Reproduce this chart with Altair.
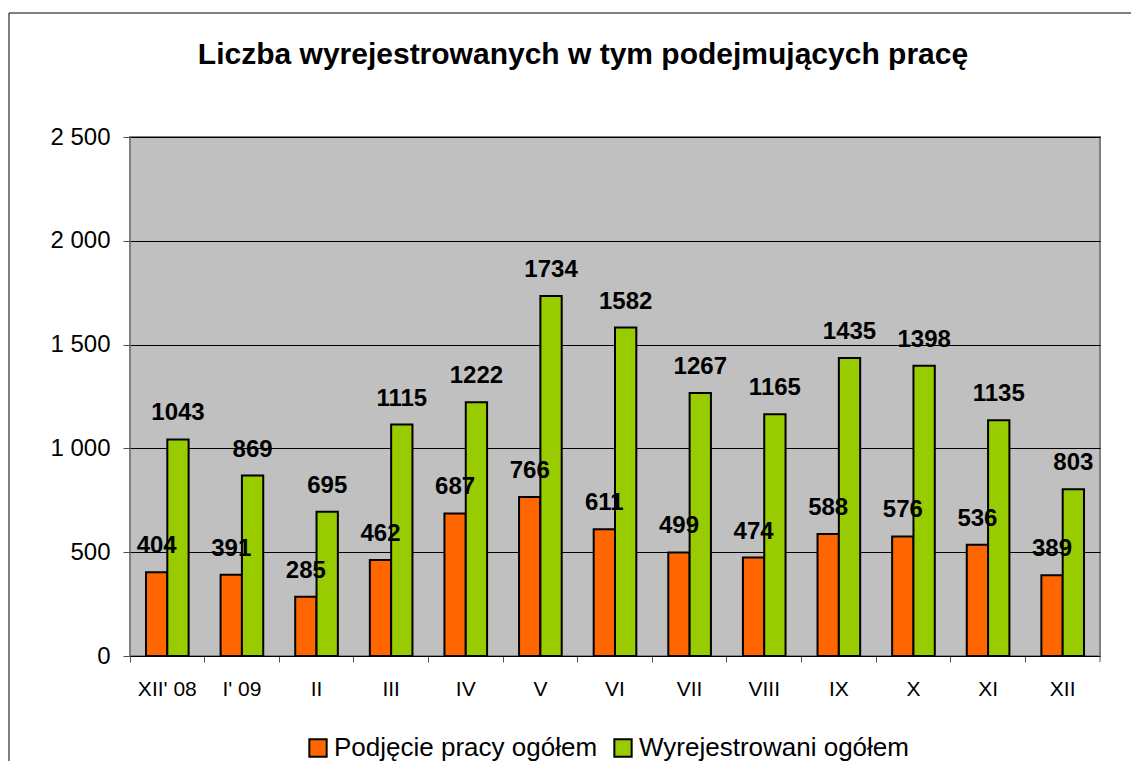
import altair as alt
import pandas as pd

months = ["XII' 08", "I' 09", "II", "III", "IV", "V", "VI", "VII", "VIII", "IX", "X", "XI", "XII"]
podjecie = [404, 391, 285, 462, 687, 766, 611, 499, 474, 588, 576, 536, 389]
wyrejestrowani = [1043, 869, 695, 1115, 1222, 1734, 1582, 1267, 1165, 1435, 1398, 1135, 803]
series_names = ["Podjęcie pracy ogółem", "Wyrejestrowani ogółem"]
series_colors = ["#FF6600", "#99CC00"]
y_ticks = [0, 500, 1000, 1500, 2000, 2500]
title_text = "Liczba wyrejestrowanych w tym podejmujących pracę"

rows = []
for m, a, b in zip(months, podjecie, wyrejestrowani):
    rows.append({"month": m, "series": series_names[0], "value": a})
    rows.append({"month": m, "series": series_names[1], "value": b})
df = pd.DataFrame(rows)

FONT = "Liberation Sans"

x_enc = alt.X(
    "month:N",
    sort=months,
    scale=alt.Scale(paddingInner=0, paddingOuter=0),
    axis=alt.Axis(
        title=None,
        labelAngle=0,
        labelFontSize=21,
        labelColor="black",
        labelPadding=16,
        tickSize=6,
        tickColor="#505050",
        tickWidth=1,
        bandPosition=0,
        domainColor="black",
        domainWidth=1,
        grid=False,
    ),
)
xoff_enc = alt.XOffset(
    "series:N",
    sort=series_names,
    scale=alt.Scale(domain=series_names, paddingInner=0, paddingOuter=0.75),
)
y_enc = alt.Y(
    "value:Q",
    scale=alt.Scale(domain=[0, 2500], nice=False),
    axis=alt.Axis(
        title=None,
        values=y_ticks,
        labelExpr="replace(format(datum.value, ','), ',', ' ')",
        labelFontSize=24,
        labelColor="black",
        labelPadding=13,
        tickSize=7,
        tickColor="#505050",
        tickWidth=1,
        domain=False,
        grid=True,
        gridColor="black",
        gridWidth=1,
    ),
)

bars = alt.Chart(df).mark_bar(stroke="black", strokeWidth=2).encode(
    x=x_enc,
    xOffset=xoff_enc,
    y=y_enc,
    color=alt.Color(
        "series:N",
        sort=series_names,
        scale=alt.Scale(domain=series_names, range=series_colors),
        legend=alt.Legend(
            title=None,
            orient="none",
            legendX=175,
            legendY=598,
            direction="horizontal",
            symbolType="square",
            symbolSize=300,
            symbolStrokeColor="black",
            symbolStrokeWidth=2,
            labelFontSize=26,
            labelColor="black",
            labelOffset=3,
            columnPadding=12,
            labelLimit=400,
        ),
    ),
)

labels = alt.Chart(df).mark_text(
    fontSize=24, fontWeight="bold", color="black", dy=-19, baseline="alphabetic"
).encode(
    x=alt.X("month:N", sort=months),
    xOffset=alt.XOffset("series:N", sort=series_names),
    y="value:Q",
    text=alt.Text("value:Q", format="d"),
)

frame_df = pd.DataFrame({"k": [0]})
frame = alt.Chart(frame_df).mark_rect(fill=None, stroke="black", strokeWidth=1).encode(
    x=alt.value(-121), x2=alt.value(1030), y=alt.value(-124), y2=alt.value(660)
)
end_tick = alt.Chart(frame_df).mark_rule(color="#505050", strokeWidth=1).encode(
    x=alt.value(970), y=alt.value(519), y2=alt.value(525)
)

chart = alt.layer(bars, labels, frame, end_tick).properties(
    width=970,
    height=519,
    title=alt.TitleParams(
        text=title_text,
        fontSize=30,
        fontWeight="bold",
        color="black",
        anchor="middle",
        baseline="alphabetic",
        offset=0,
        dy=81,
        dx=-32,
    ),
    autosize=alt.AutoSizeParams(type="none"),
    padding={"left": 122, "top": 129, "right": 31, "bottom": 105},
).configure(
    font=FONT,
).configure_view(
    fill="#C0C0C0",
    stroke="#808080",
    strokeWidth=2,
)

chart.save("out.html", embed_options={"renderer": "svg", "actions": False})
